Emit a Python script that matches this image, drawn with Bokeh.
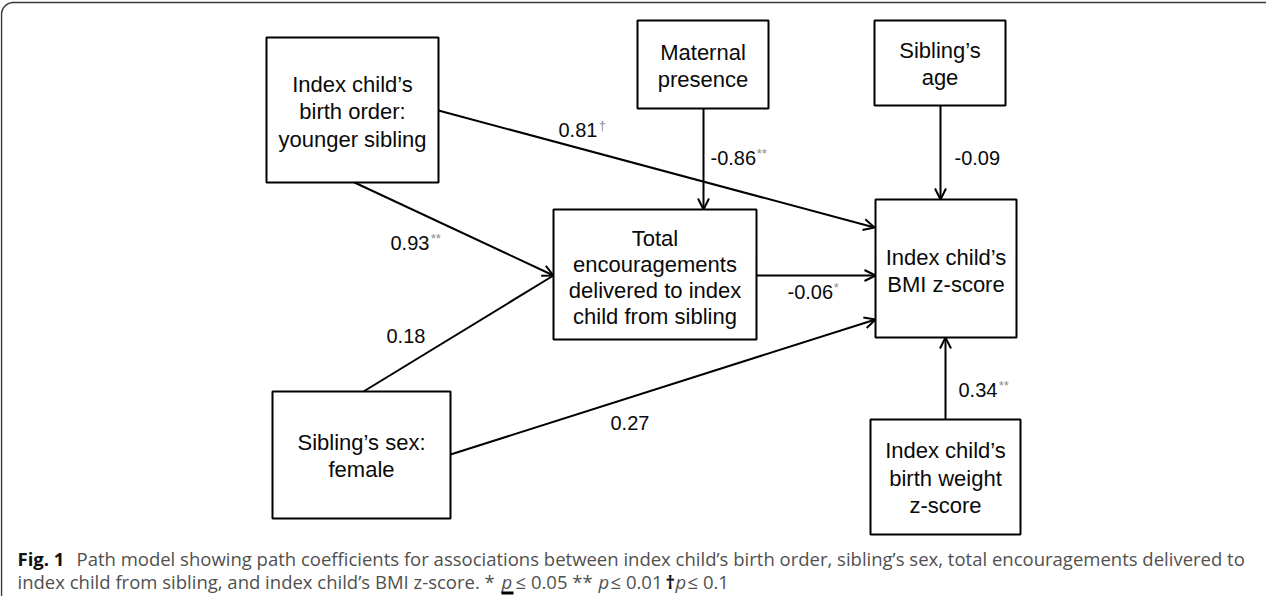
import numpy as np
from bokeh.plotting import figure
from bokeh.models import Range1d, Arrow, OpenHead
from bokeh.core.properties import value
from bokeh.embed import file_html
from bokeh.resources import INLINE

# ---------------- data ----------------
node_names = ["birth", "maternal", "age", "total", "bmi", "sex", "weight"]
node_labels = [
    ["Index child\u2019s", "birth order:", "younger sibling"],
    ["Maternal", "presence"],
    ["Sibling\u2019s", "age"],
    ["Total", "encouragements", "delivered to index", "child from sibling"],
    ["Index child\u2019s", "BMI z-score"],
    ["Sibling\u2019s sex:", "female"],
    ["Index child\u2019s", "birth weight", "z-score"],
]
edge_src = ["birth", "birth", "sex", "sex", "total", "maternal", "age", "weight"]
edge_dst = ["bmi", "total", "total", "bmi", "bmi", "total", "bmi", "bmi"]
edge_coef = ["0.81", "0.93", "0.18", "0.27", "-0.06", "-0.86", "-0.09", "0.34"]
edge_sig = ["\u2020", "**", "", "", "*", "**", "", "**"]
edge_head = [True, True, False, True, True, True, True, True]

caption_line1 = [("Fig. 1", "bold"),
                 ("Path model showing path coefficients for associations between index child\u2019s birth order, sibling\u2019s sex, total encouragements delivered to", "normal")]
caption_line2 = [("index child from sibling, and index child\u2019s BMI z-score. *", "normal"),
                 ("p", "italic"), ("\u2264 0.05 **", "normal"), ("p", "italic"),
                 ("\u2264 0.01", "normal"), ("\u2020", "bold"), ("p", "italic"), ("\u2264 0.1", "normal")]

# ---------------- layout (pixel positions) ----------------
boxes = {  # left, top, right, bottom
    "birth": (274, 45, 446, 190),
    "maternal": (645, 28, 776, 116),
    "age": (882, 28, 1013, 113),
    "total": (561, 217, 764, 347),
    "bmi": (883, 207, 1024, 345),
    "sex": (280, 399, 458, 526),
    "weight": (878, 427, 1028, 542),
}
text_center_y = {"birth": 119, "maternal": 73.5, "age": 71.5, "total": 284.5,
                 "bmi": 278.5, "sex": 463.5, "weight": 485.5}
line_step = {"birth": 27.5, "maternal": 27, "age": 27, "total": 26, "bmi": 27, "sex": 27, "weight": 27.5}
edge_start = [(446, 118), (362, 190), (371, 399), (458, 462), (764, 283), (711, 116), (948, 113), (953, 427)]
edge_end = [(882, 235), (561, 283), (561, 283), (883, 327), (883, 283), (711, 217), (948, 207), (953, 345)]
label_pos = [(566, 137), (398, 250), (394, 343), (618, 430), (795, 299), (718, 165), (962, 165), (966, 397)]

cap1_x = [25, 84]
cap2_x = [25, 509, 523, 606, 618, 673, 683, 695]
cap_y = [566, 589]

W, H = 1266, 596
p = figure(width=W, height=H, x_range=Range1d(8, 8 + W), y_range=Range1d(8 + H, 8),
           output_backend="svg", toolbar_location=None, x_axis_type=None, y_axis_type=None,
           min_border=0)
p.grid.visible = False
p.outline_line_color = None
p.background_fill_color = "white"
p.border_fill_color = "white"

# outer rounded frame
r = 12
ang = np.linspace(np.pi, 1.5 * np.pi, 20)
fx = [9, 9] + list(9 + r + r * np.cos(ang)) + [1300]
fy = [700, 10 + r] + list(10 + r + r * np.sin(ang)) + [10]
p.line(fx, fy, line_color="#3a3a3a", line_width=1.5)

# edges
for i in range(len(edge_src)):
    (x0, y0), (x1, y1) = edge_start[i], edge_end[i]
    if edge_head[i]:
        p.add_layout(Arrow(end=OpenHead(size=11, line_width=2, line_color="black"),
                           x_start=x0, y_start=y0, x_end=x1, y_end=y1,
                           line_width=2, line_color="black"))
    else:
        p.line([x0, x1], [y0, y1], line_width=2, line_color="black")

# boxes
left = [boxes[n][0] for n in node_names]
top = [boxes[n][1] for n in node_names]
right = [boxes[n][2] for n in node_names]
bottom = [boxes[n][3] for n in node_names]
p.quad(left=left, right=right, top=top, bottom=bottom, fill_color="white",
       line_color="black", line_width=2)

tx, ty, tt = [], [], []
for n, lab in zip(node_names, node_labels):
    cx = (boxes[n][0] + boxes[n][2]) / 2
    k = len(lab)
    for j, s in enumerate(lab):
        tx.append(cx)
        ty.append(text_center_y[n] + (j - (k - 1) / 2) * line_step[n])
        tt.append(s)
p.text(x=tx, y=ty, text=tt, text_font=value("Liberation Sans"), text_font_size="22px",
       text_align="center", text_baseline="middle", text_color="#0a0a0a")

# coefficient labels
lx = [q[0] for q in label_pos]
ly = [q[1] for q in label_pos]
p.text(x=lx, y=ly, text=edge_coef, text_font=value("Liberation Sans"), text_font_size="20px",
       text_align="left", text_baseline="middle", text_color="#0a0a0a")
sx, sy, st = [], [], []
for i, s in enumerate(edge_sig):
    if s:
        w = sum(6.0 if c in "-." else 11.1 for c in edge_coef[i])
        sx.append(label_pos[i][0] + w + 1)
        sy.append(label_pos[i][1] - 4)
        st.append(s)
p.text(x=sx, y=sy, text=st, text_font=value("Liberation Sans"), text_font_size="13px",
       text_align="left", text_baseline="middle", text_color="#8c8c8c")

# caption
for (s, style), x in zip(caption_line1, cap1_x):
    p.text(x=[x], y=[cap_y[0]], text=[s], text_font=value("Open Sans"), text_font_size="18.5px",
           text_font_style=style, text_align="left", text_baseline="middle",
           text_color="#111111" if style == "bold" else "#505050")
for (s, style), x in zip(caption_line2, cap2_x):
    p.text(x=[x], y=[cap_y[1]], text=[s], text_font=value("Open Sans"), text_font_size="18.5px",
           text_font_style=style, text_align="left", text_baseline="middle",
           text_color="#111111" if style == "bold" else "#505050")
# underline artifact under first "p"
p.quad(left=[509], right=[521], top=[599], bottom=[602], fill_color="black", line_color=None)

open("out.html", "w").write(file_html(p, INLINE))
